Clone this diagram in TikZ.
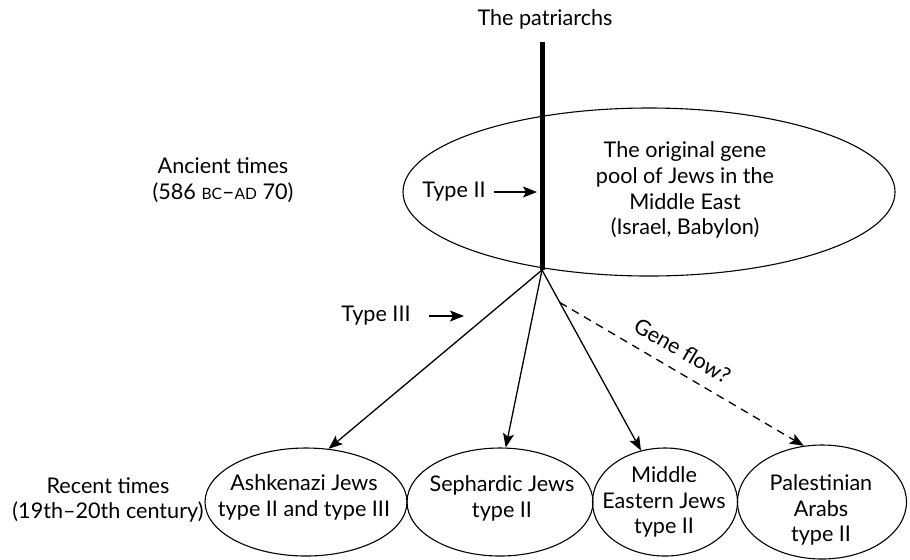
\documentclass[tikz,border=0pt]{standalone}
\usepackage{fontspec}
\setmainfont{Lato}
\usetikzlibrary{arrows.meta, shapes.geometric}

% small caps for the era marks
\newcommand{\era}[1]{{\fontsize{7.8pt}{9pt}\selectfont #1}}

\begin{document}
\begin{tikzpicture}[x=0.5pt, y=-0.5pt, font=\fontsize{10.8pt}{12.9pt}\selectfont]

      \tikzstyle{pool_style} = [ellipse, draw, line width=0.55pt, inner sep=0pt]
      \tikzstyle{text_style} = [align=center, inner sep=2pt]
      \tikzstyle{arrow_style} = [line width=0.65pt, -{Stealth[length=7pt, width=5.5pt, inset=1.5pt]}]

      \useasboundingbox (0,0) rectangle (910,559);

            \draw
              (545, 19) node[text_style] (top){The patriarchs}
              (223, 180) node[text_style] (ancient){Ancient times\\(586 \era{BC}--\era{AD} 70)}
              (108, 500) node[text_style] (recent){Recent times\\(19th--20th century)}
              (649, 192) node[pool_style, minimum width=246pt, minimum height=84pt] (pool){}
              (685, 190) node[text_style] (pooltext){The original gene\\pool of Jews in the\\Middle East\\(Israel, Babylon)}
              (454, 192) node[text_style] (type2){Type II}
              (376, 316) node[text_style] (type3){Type III}
              (306, 502) node[pool_style, minimum width=101pt, minimum height=54pt] (ashk){}
              (500, 502) node[pool_style, minimum width=93pt, minimum height=54pt] (seph){}
              (665, 502) node[pool_style, minimum width=72.5pt, minimum height=54pt] (mideast){}
              (822, 502) node[pool_style, minimum width=84.5pt, minimum height=57pt] (pal){}
              (304, 497) node[text_style] (ashktext){Ashkenazi Jews\\type II and type III}
              (502, 498) node[text_style] (sephtext){Sephardic Jews\\type II}
              (664, 502) node[text_style] (mideasttext){Middle\\Eastern Jews\\type II}
              (821, 510) node[text_style] (paltext){Palestinian\\Arabs\\type II};

      \coordinate (trunktop) at (542, 42);
      \coordinate (hub) at (542, 270);
      \coordinate (type2end) at (537, 192);
      \coordinate (type3end) at (464, 316);

      \draw[line width=2.5pt] (trunktop) -- (hub);

      \begin{scope}[arrow_style]
        \draw ([xshift=2pt]type2.east) -- (type2end);
        \draw ([xshift=7pt]type3.east) -- (type3end);
        \draw (hub) -- (ashk.67);
        \draw (hub) -- (seph.84);
        \draw (hub) -- coordinate[pos=0.18] (branch) (mideast.115);
        \draw[dash pattern=on 4pt off 3pt] (branch) -- node[sloped, above=4pt, pos=0.46, text_style] (geneflow){Gene flow?} (pal.108);
      \end{scope}
    \end{tikzpicture}
\end{document}
